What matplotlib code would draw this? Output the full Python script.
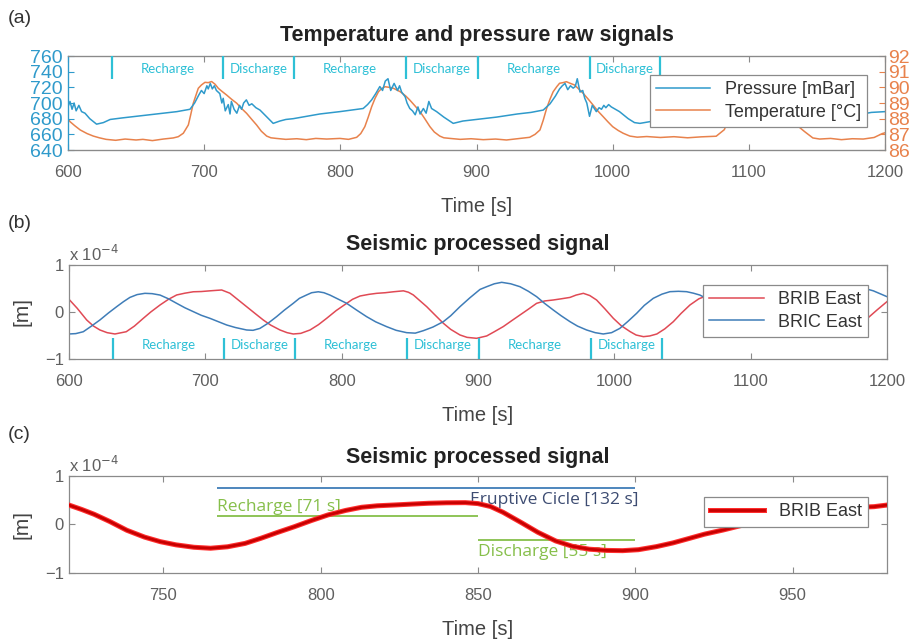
import matplotlib
matplotlib.use("Agg")
import matplotlib.pyplot as plt
import matplotlib.patheffects as pe

plt.rcParams['font.family'] = ['Liberation Sans', 'DejaVu Sans']

# ── (a) raw pressure / temperature signals ──
pressure_t = [600, 601.5, 603, 604.5, 606, 608, 610, 612.5, 616, 621, 626, 631, 640, 655, 670, 680,
              689.6, 693, 696, 698, 700, 702, 703, 704.5, 706, 707.5, 709, 711.5, 713, 714, 715.5,
              717.7, 719, 720, 722, 724, 726, 727.5, 729, 731, 733, 735, 738, 741, 745, 750.7, 755.6,
              760, 765.4, 775, 785, 799.7, 808, 816.8, 820, 823, 826, 829, 831, 833, 835, 837, 839.5,
              842, 843.5, 845, 847.6, 849, 851, 853, 855, 857, 858.6, 861, 863, 865, 867, 870.7, 876,
              882.9, 890, 900, 914.7, 930, 940, 949, 954, 958, 961, 963, 965, 967, 969, 971, 972.5,
              974, 976, 978, 979.5, 981, 983, 985, 988, 990, 991.8, 993.5, 995, 997, 999, 1002, 1005,
              1011.4, 1016, 1020, 1040, 1060, 1080, 1088, 1095, 1102, 1110, 1120, 1135, 1150, 1165,
              1180, 1190, 1200]
pressure_mbar = [695, 702, 692, 700, 690, 697, 689, 687, 680, 673, 675, 679, 681, 684, 687, 689,
                 692, 700, 710, 716, 712, 722, 718, 725, 718, 722, 716, 712, 700, 706, 690,
                 698, 686, 702, 692, 687, 697, 692, 700, 704, 697, 699, 694, 691, 684, 674, 677,
                 679, 680, 683, 686, 689, 691, 693, 698, 704, 712, 721, 716, 728, 731, 716, 725,
                 716, 722, 714, 708, 700, 693, 690, 685, 695, 686, 693, 687, 702, 693, 689, 682,
                 674, 677, 679, 682, 686, 688, 691, 699, 709, 718, 722, 725, 717, 722, 719, 721,
                 731, 714, 716, 706, 700, 683, 697, 689, 694, 692, 697, 694, 698, 695, 692, 689,
                 680, 675, 674, 680, 685, 690, 705, 720, 712, 700, 692, 680, 676, 680,
                 685, 688, 689]

temp_t = [600, 601.5, 605, 609, 614, 618.6, 623, 628, 635, 642, 650, 655, 662, 670, 677.3, 681,
          684.7, 688.4, 690, 692, 694, 695.7, 698, 700.6, 703, 705.5, 708, 710.4, 713, 716.5, 720,
          724, 727.5, 731.2, 735, 738.5, 742, 745.9, 749, 753, 760, 768, 775, 782, 790, 799.7, 806,
          812, 815, 818, 820.5, 823, 825.5, 828, 830, 832.8, 836, 839, 844, 848, 851, 855, 858.6,
          862, 865.8, 869, 873, 876, 880.6, 888, 896, 905, 914, 922, 930, 939, 943, 946.6, 949,
          951.5, 954, 956.3, 959, 961, 963.5, 966, 969, 972, 975, 978.3, 982, 985.6, 989, 993,
          996.5, 1000, 1004, 1007.7, 1012.6, 1018, 1025, 1035, 1045, 1055, 1065, 1076, 1082, 1088,
          1094, 1100, 1106, 1115, 1125, 1135, 1141, 1147, 1152, 1160, 1168, 1176, 1184, 1192, 1198,
          1200]
temp_c = [88.0, 87.81, 87.55, 87.28, 87.05, 86.89, 86.78, 86.68, 86.62, 86.7, 86.64, 86.68, 86.6,
          86.7, 86.77, 86.85, 87.07, 87.6, 88.2, 88.98, 89.5, 89.94, 90.15, 90.32, 90.3, 90.37, 90.2,
          89.94, 89.75, 89.51, 89.25, 88.98, 88.65, 88.34, 87.95, 87.6, 87.2, 86.89, 86.78, 86.74,
          86.68, 86.72, 86.66, 86.74, 86.7, 86.74, 86.68, 86.81, 87.05, 87.49, 88.1, 88.76, 89.3,
          89.72, 89.9, 90.04, 90.0, 89.94, 89.72, 89.45, 89.19, 88.8, 88.44, 88.0, 87.49, 87.15,
          86.89, 86.78, 86.74, 86.68, 86.72, 86.66, 86.7, 86.64, 86.72, 86.81, 87.0, 87.28, 87.9,
          88.66, 89.25, 89.72, 90.05, 90.26, 90.3, 90.36, 90.25, 90.15, 89.9, 89.62, 89.25, 88.87,
          88.5, 88.13, 87.8, 87.49, 87.25, 87.07, 86.89, 86.82, 86.86, 86.8, 86.85, 86.78, 86.84,
          86.88, 87.3, 88.6, 89.8, 90.2, 89.9, 89.2, 88.4, 87.6, 87.17, 86.77, 86.7, 86.74, 86.66,
          86.72, 86.7, 86.8, 87.05, 87.1]

# phase boundaries (s) and names between them
phase_edges = [632, 714, 766, 848, 901, 983, 1035]
phase_names = ["Recharge", "Discharge", "Recharge", "Discharge", "Recharge", "Discharge"]

# ── (b) processed seismic signals (x 1e-4 m) ──
brib_t = [600, 606, 613, 618, 622.7, 628, 633.7, 642, 648, 654.5, 660, 666.8, 673, 679, 685, 691.2,
          697, 703.4, 708, 712, 718, 724, 730.3, 736, 742.5, 748, 754.8, 760, 764.5, 770, 776.8,
          783, 789, 796, 803.7, 808, 813.5, 820, 825.7, 832, 838, 845.3, 849, 852.6, 857, 862.4,
          868, 874.6, 880, 886.8, 892, 899, 906.4, 912, 918.6, 925, 930.8, 937, 943, 949, 955.2,
          961, 967.5, 972, 977.3, 982, 987, 993, 999.3, 1005, 1011.6, 1016, 1021.4, 1026, 1031.2,
          1037, 1043.3, 1049, 1055.5, 1062, 1070, 1080, 1090, 1100, 1107, 1115, 1125, 1135, 1145,
          1155, 1165, 1175, 1186.3, 1193, 1200]
brib_east = [0.27, 0.08, -0.17, -0.3, -0.383, -0.44, -0.468, -0.42, -0.3, -0.135, 0.0, 0.149, 0.27,
             0.362, 0.4, 0.43, 0.435, 0.45, 0.46, 0.468, 0.40, 0.26, 0.113, -0.02, -0.17, -0.28,
             -0.383, -0.44, -0.468, -0.455, -0.383, -0.27, -0.135, 0.03, 0.184, 0.27, 0.34, 0.375,
             0.397, 0.41, 0.43, 0.45, 0.42, 0.362, 0.25, 0.113, -0.05, -0.24, -0.37, -0.489, -0.54,
             -0.56, -0.51, -0.42, -0.31, -0.18, -0.064, 0.06, 0.184, 0.235, 0.255, 0.28, 0.31, 0.36,
             0.397, 0.35, 0.255, 0.07, -0.135, -0.29, -0.418, -0.49, -0.525, -0.51, -0.468, -0.36,
             -0.206, -0.03, 0.149, 0.28, 0.37, 0.40, 0.42, 0.44, 0.45, 0.35, 0.1, -0.15, -0.35,
             -0.45, -0.45, -0.38, -0.12, 0.05, 0.22]

bric_t = [600, 605, 610.5, 616, 622.7, 629, 635, 640, 644.7, 650, 655.7, 661, 666.8, 673, 679, 685,
          691.2, 697, 703.4, 709, 715.7, 722, 730.3, 735, 740, 746, 752.3, 758, 764.5, 769, 774.3,
          778, 782.9, 787, 791.4, 797, 803.7, 811, 818.3, 825, 833, 840, 847.7, 854, 860, 867,
          874.6, 880, 886.8, 894, 901.5, 906.4, 912, 917.4, 924, 930.8, 937, 943, 949, 955.2, 961,
          967.5, 973, 979.7, 986, 991.9, 998, 1004, 1010, 1016.4, 1022, 1028.6, 1035, 1040.8, 1047,
          1053, 1058, 1062.8, 1070, 1080, 1090, 1100, 1110, 1120, 1130, 1140, 1150, 1160, 1170,
          1177, 1183.8, 1190, 1200]
bric_east = [-0.468, -0.46, -0.42, -0.31, -0.17, -0.02, 0.113, 0.22, 0.31, 0.37, 0.397, 0.39, 0.36,
             0.28, 0.184, 0.09, 0.007, -0.07, -0.135, -0.2, -0.277, -0.33, -0.383, -0.39, -0.35,
             -0.24, -0.099, 0.04, 0.184, 0.29, 0.362, 0.41, 0.43, 0.41, 0.36, 0.28, 0.184, 0.04,
             -0.099, -0.21, -0.312, -0.39, -0.44, -0.45, -0.397, -0.32, -0.206, -0.08, 0.113, 0.3,
             0.48, 0.538, 0.6, 0.631, 0.6, 0.538, 0.44, 0.326, 0.18, 0.043, -0.08, -0.206, -0.3,
             -0.383, -0.44, -0.468, -0.44, -0.35, -0.2, -0.028, 0.14, 0.291, 0.38, 0.432, 0.44,
             0.432, 0.4, 0.36, 0.25, 0.05, -0.15, -0.3, -0.42, -0.45, -0.38, -0.2, 0.05, 0.28, 0.42,
             0.48, 0.50, 0.45, 0.326]

# ── (c) one eruptive cycle on BRIB East (x 1e-4 m) ──
cycle_t = [720, 724, 728, 733, 738.4, 744, 749, 754, 759.7, 765, 770.4, 776, 781, 786, 791.7, 797,
           802.3, 808, 813, 818, 823.6, 829, 834.3, 840, 846, 850, 854, 858, 864, 869, 874.7, 880,
           885.4, 891, 896, 901, 906.7, 912, 917.3, 922, 928, 935, 942, 950, 958, 966, 975.9, 980]
cycle_brib = [0.40, 0.31, 0.21, 0.06, -0.12, -0.26, -0.354, -0.42, -0.47, -0.49, -0.46, -0.39,
              -0.285, -0.17, -0.045, 0.08, 0.196, 0.29, 0.354, 0.385, 0.402, 0.42, 0.437, 0.447,
              0.45, 0.43, 0.37, 0.25, 0.03, -0.16, -0.34, -0.45, -0.51, -0.535, -0.54, -0.52,
              -0.457, -0.38, -0.285, -0.2, -0.113, 0.0, 0.12, 0.22, 0.3, 0.34, 0.367, 0.40]

seg_labels = ["Eruptive Cicle [132 s]", "Recharge [71 s]", "Discharge [55 s]"]
seg_start = [767, 767, 850]
seg_end = [900, 850, 900]
seg_level = [0.75, 0.175, -0.32]

# ── styling ──
C_PRESS = "#2f9acb"
C_TEMP = "#e8824c"
C_RED = "#e04a55"
C_BLUE = "#3f7db8"
C_PHASE = "#2ec0d6"
C_SPINE = "#8a8a8a"
C_TICK = "#5f5f5f"
C_GREEN = "#86bf4a"
C_NAVY = "#3d4c72"


def _style_axes(ax, label_color=C_TICK):
    for spine in ax.spines.values():
        spine.set_color(C_SPINE)
        spine.set_linewidth(0.9)
    ax.tick_params(direction="in", top=True, right=True, length=4, width=0.8,
                   color=C_SPINE, labelcolor=label_color, labelsize=12)
    ax.tick_params(axis="x", pad=11)
    ax.set_xlabel("Time [s]", fontsize=14.5, color="#444444", labelpad=12)


def _legend(ax, anchor, **kw):
    leg = ax.legend(loc="upper right", bbox_to_anchor=anchor, borderaxespad=0,
                    fontsize=13, handlelength=3.0, fancybox=False, framealpha=1,
                    edgecolor="#8a8a8a", borderpad=0.35, labelspacing=0.3, **kw)
    leg.get_frame().set_linewidth(0.9)
    for txt in leg.get_texts():
        txt.set_color("#333333")
    return leg


def _phases(ax, y0, y1, ytext):
    ax.vlines(phase_edges, y0, y1, color=C_PHASE, lw=1.6, zorder=3)
    for a, b, name in zip(phase_edges[:-1], phase_edges[1:], phase_names):
        ax.text((a + b) / 2, ytext, name, color=C_PHASE, fontsize=9.5, family="Lato",
                ha="center", va="center", zorder=3)


fig = plt.figure(figsize=(9.16, 6.43), dpi=100, facecolor="white")

# (a)
ax_a = fig.add_axes([0.0742, 0.7667, 0.892, 0.1462])
ax_t = ax_a.twinx()
l1, = ax_a.plot(pressure_t, pressure_mbar, color=C_PRESS, lw=1.1, label="Pressure [mBar]")
l2, = ax_t.plot(temp_t, temp_c, color=C_TEMP, lw=1.1, label="Temperature [°C]")
ax_a.set_zorder(ax_t.get_zorder() + 1)
ax_a.patch.set_visible(False)
ax_a.set_xlim(600, 1200)
ax_a.set_ylim(640, 760)
ax_a.set_yticks(range(640, 761, 20))
ax_t.set_ylim(86, 92)
ax_t.set_yticks(range(86, 93))
_style_axes(ax_a)
ax_a.tick_params(axis="y", labelcolor=C_PRESS, labelsize=14, right=False, color=C_PRESS, pad=4)
ax_t.tick_params(axis="y", direction="in", length=4, width=0.8, color=C_TEMP,
                 labelcolor=C_TEMP, labelsize=14, pad=2)
ax_a.spines["left"].set_color(C_PRESS)
ax_t.spines["left"].set_color(C_PRESS)
ax_t.spines["right"].set_color(C_TEMP)
for s in ("top", "bottom"):
    ax_t.spines[s].set_color(C_SPINE)
_phases(ax_a, 731, 760, 743.5)
ax_a.set_title("Temperature and pressure raw signals", fontsize=15.5, fontweight="bold",
               color="#222222", pad=11)
_legend(ax_a, (0.978, 0.80), handles=[l1, l2])

# (b)
ax_b = fig.add_axes([0.0753, 0.4417, 0.893, 0.1462])
ax_b.plot(brib_t, brib_east, color=C_RED, lw=1.1, label="BRIB East")
ax_b.plot(bric_t, bric_east, color=C_BLUE, lw=1.1, label="BRIC East")
ax_b.set_xlim(600, 1200)
ax_b.set_ylim(-1, 1)
ax_b.set_yticks([-1, 0, 1])
_style_axes(ax_b)
_phases(ax_b, -1, -0.55, -0.70)
ax_b.set_title("Seismic processed signal", fontsize=15.5, fontweight="bold", color="#222222", pad=11)
_legend(ax_b, (0.977, 0.787))

# (c)
ax_c = fig.add_axes([0.0753, 0.1089, 0.893, 0.1509])
ax_c.plot(cycle_t, cycle_brib, color="#c80000", lw=2.0, label="BRIB East", zorder=4,
          path_effects=[pe.Stroke(linewidth=3.6, foreground="#ff2e2e"), pe.Normal()])
seg_colors = [C_BLUE, C_GREEN, C_GREEN]
ax_c.hlines(seg_level, seg_start, seg_end, colors=seg_colors, lw=1.3, zorder=3)
ax_c.text(seg_end[0] + 1, seg_level[0] - 0.25, seg_labels[0], color=C_NAVY, fontsize=12.5,
          family="Open Sans", ha="right", va="center")
ax_c.text(seg_start[1], seg_level[1] + 0.01, seg_labels[1], color=C_GREEN, fontsize=12.5,
          family="Open Sans", ha="left", va="bottom")
ax_c.text(seg_start[2], seg_level[2] - 0.24, seg_labels[2], color=C_GREEN, fontsize=12.5,
          family="Open Sans", ha="left", va="center")
ax_c.set_xlim(720, 980)
ax_c.set_ylim(-1, 1)
ax_c.set_xticks(range(750, 951, 50))
ax_c.set_yticks([-1, 0, 1])
_style_axes(ax_c)
ax_c.set_title("Seismic processed signal", fontsize=15.5, fontweight="bold", color="#222222", pad=9)
_legend(ax_c, (0.977, 0.784))

for ax in (ax_b, ax_c):
    ax.set_ylabel("[m]", fontsize=15, color="#444444", labelpad=10)
    ax.text(0.0, 1.01, r"x 10$^{-4}$", transform=ax.transAxes, ha="left", va="bottom",
            fontsize=12, color=C_TICK)

for label, y in (("(a)", 0.972), ("(b)", 0.653), ("(c)", 0.325)):
    fig.text(0.008, y, label, fontsize=14, color="#333333", ha="left", va="center")

fig.savefig("out.png", dpi=100, facecolor="white")
